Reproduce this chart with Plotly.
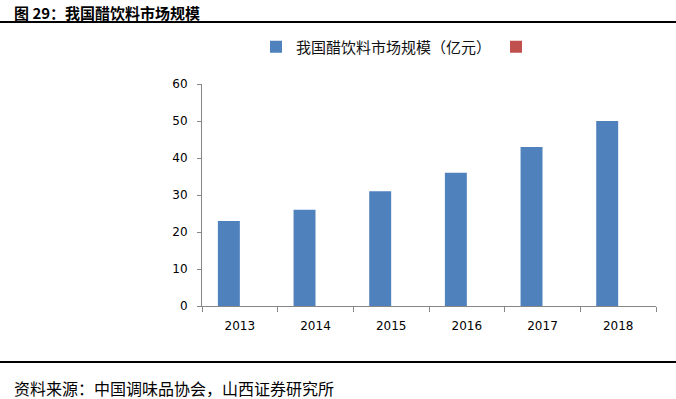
import plotly.graph_objects as go

years = ["2013", "2014", "2015", "2016", "2017", "2018"]
market_size = [23, 26, 31, 36, 43, 50]
empty_series = [None, None, None, None, None, None]

title_text = "图 29：我国醋饮料市场规模"
series_name = "我国醋饮料市场规模（亿元）"
source_text = "资料来源：中国调味品协会，山西证券研究所"

W, H = 676, 399
ML, MR, MT, MB = 202, 20, 84, 93
PW = W - ML - MR
PH = H - MT - MB

def px(x):
    return (x - ML) / PW

def py(y):
    return (H - MB - y) / PH

fig = go.Figure()
fig.add_trace(go.Bar(x=years, y=market_size, name=series_name,
                     marker=dict(color="#4F81BD", line=dict(width=0))))
fig.add_trace(go.Bar(x=years, y=empty_series, name=" ",
                     marker=dict(color="#C0504D", line=dict(width=0))))

cjk = "Noto Sans CJK SC"
tickfont = dict(size=12, family="DejaVu Sans", color="#000")
fig.update_layout(
    width=W, height=H,
    margin=dict(l=ML, r=MR, t=MT, b=MB),
    paper_bgcolor="white", plot_bgcolor="white",
    barmode="group", bargap=0.42, bargroupgap=0,
    font=dict(family=cjk, color="#000000"),
    showlegend=True,
    legend=dict(orientation="h", x=px(256), y=py(47), yanchor="middle", xanchor="left",
                font=dict(size=15, family=cjk, color="#111"), itemwidth=30,
                bgcolor="rgba(0,0,0,0)"),
    xaxis=dict(showline=True, linecolor="#868686", linewidth=1,
               ticks="outside", tickson="boundaries", ticklen=5, tickcolor="#868686",
               tickfont=tickfont, ticklabelstandoff=9,
               showgrid=False),
    yaxis=dict(range=[0, 60], dtick=10, showline=True, linecolor="#868686", linewidth=1,
               ticks="outside", ticklen=4, tickcolor="#868686",
               tickfont=tickfont, ticklabelstandoff=7,
               showgrid=False, zeroline=False),
    shapes=[
        dict(type="line", xref="paper", yref="paper", x0=px(0), x1=px(W), y0=py(22), y1=py(22),
             line=dict(color="#000", width=2)),
        dict(type="line", xref="paper", yref="paper", x0=px(0), x1=px(W), y0=py(362), y1=py(362),
             line=dict(color="#000", width=2)),
    ],
    annotations=[
        dict(text="<b>" + title_text + "</b>", xref="paper", yref="paper", x=px(12), y=py(12),
             xanchor="left", yanchor="middle", showarrow=False,
             font=dict(size=15, family=cjk, color="#000")),
        dict(text=source_text, xref="paper", yref="paper", x=px(12), y=py(388),
             xanchor="left", yanchor="middle", showarrow=False,
             font=dict(size=16, family=cjk, color="#000")),
    ],
)

fig.write_html("out.html", config={"displayModeBar": False},
               post_script="document.body.style.margin='0';")
